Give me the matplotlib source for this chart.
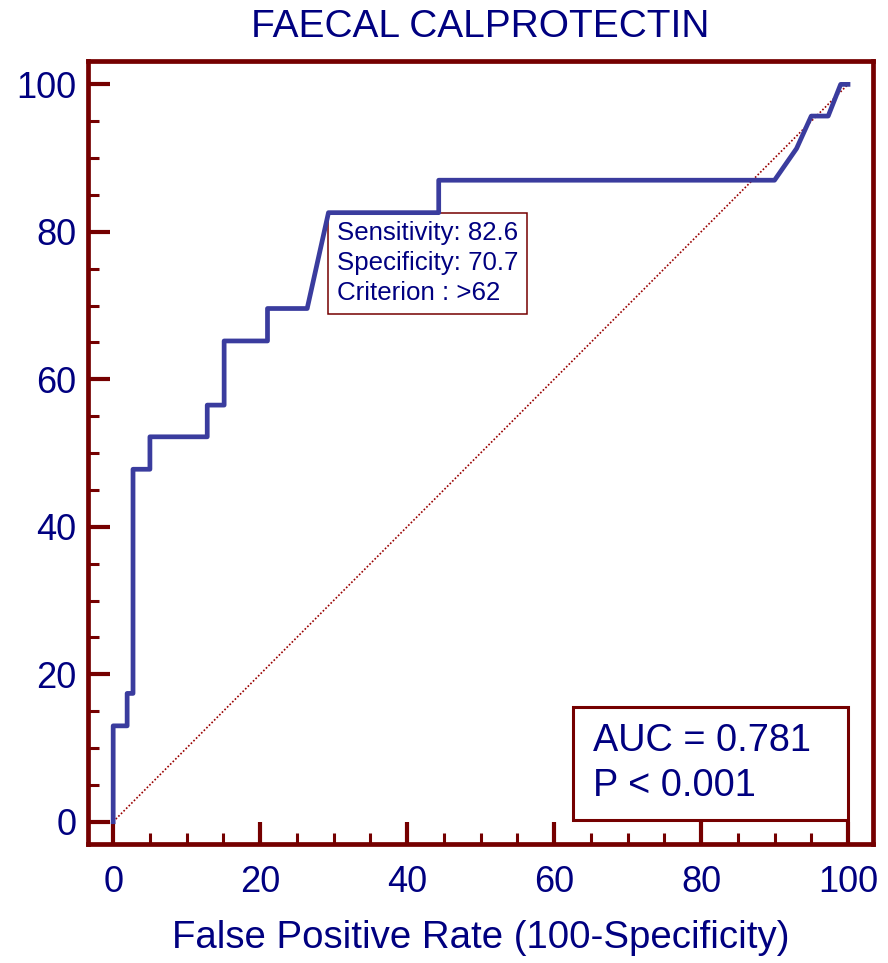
import matplotlib
matplotlib.use("Agg")
import matplotlib.pyplot as plt
from matplotlib.patches import Rectangle
from matplotlib.ticker import MultipleLocator

plt.rcParams['font.family'] = ['Liberation Sans', 'DejaVu Sans']

# ROC curve (100-specificity, sensitivity)
fpr = [0, 0, 1.9, 1.9, 2.7, 2.7, 5.0, 5.0, 12.8, 12.8, 15.1, 15.1, 21.0, 21.0,
       26.4, 29.3, 44.3, 44.3, 90.0, 93.0, 95.0, 97.3, 99.0, 100]
sens = [0, 13.0, 13.0, 17.4, 17.4, 47.8, 47.8, 52.2, 52.2, 56.5, 56.5, 65.2, 65.2, 69.6,
        69.6, 82.6, 82.6, 87.0, 87.0, 91.3, 95.7, 95.7, 100, 100]
diag = [0, 100]

# optimal cut-off
cut_sens = 82.6
cut_spec = 70.7
cut_crit = ">62"
auc = 0.781
p_text = "P < 0.001"

title = "FAECAL CALPROTECTIN"
xlab = "False Positive Rate (100-Specificity)"
ticks = [0, 20, 40, 60, 80, 100]

red = '#750000'
navy = '#000080'
blue = '#3a3c9e'

fig = plt.figure(figsize=(8.88, 9.63), dpi=100)
ax = fig.add_axes([0.0994, 0.1236, 0.8837, 0.8133])

ax.plot(diag, diag, color='#990000', lw=1.2, ls=(0, (1, 1.2)), zorder=2)
ax.plot(fpr, sens, color=blue, lw=3.4, zorder=4)

ax.set_xlim(-3.39, 103.4)
ax.set_ylim(-3.02, 103.2)
ax.set_xticks(ticks)
ax.set_yticks(ticks)
ax.xaxis.set_minor_locator(MultipleLocator(5))
ax.yaxis.set_minor_locator(MultipleLocator(5))

for s in ax.spines.values():
    s.set_color(red)
    s.set_linewidth(3.4)

ax.tick_params(which='major', direction='in', length=15.5, width=3.0, color=red,
               labelsize=26, labelcolor=navy)
ax.tick_params(which='minor', direction='in', length=8, width=2.2, color=red)
ax.tick_params(axis='x', which='major', pad=15)
ax.tick_params(axis='y', which='major', pad=8.5)

ax.set_title(title, fontsize=28, color=navy, pad=17)
ax.set_xlabel(xlab, fontsize=27.6, color=navy)
ax.xaxis.label.set_va('baseline')
ax.xaxis.set_label_coords(0.5, -0.1328)

# criterion box, corner on the cut-off point
cut_txt = "Sensitivity: %.1f\nSpecificity: %.1f\nCriterion : %s" % (cut_sens, cut_spec, cut_crit)
ax.annotate(cut_txt, xy=(100 - cut_spec, cut_sens), xytext=(6.1, -6.1),
            textcoords='offset points', ha='left', va='top', fontsize=18.6,
            color=navy, linespacing=1.32, zorder=3,
            bbox=dict(boxstyle='square,pad=0.33', fc='white', ec=red, lw=1.1))

# AUC box
ax.add_patch(Rectangle((62.6, 0.2), 37.4, 15.3, fc='white', ec=red, lw=2.2, zorder=3))
ax.text(65.3, 13.4, "AUC = %.3f\n%s" % (auc, p_text), ha='left', va='top',
        fontsize=27.3, color=navy, linespacing=1.31, zorder=5)

fig.savefig('out.png', dpi=100)
